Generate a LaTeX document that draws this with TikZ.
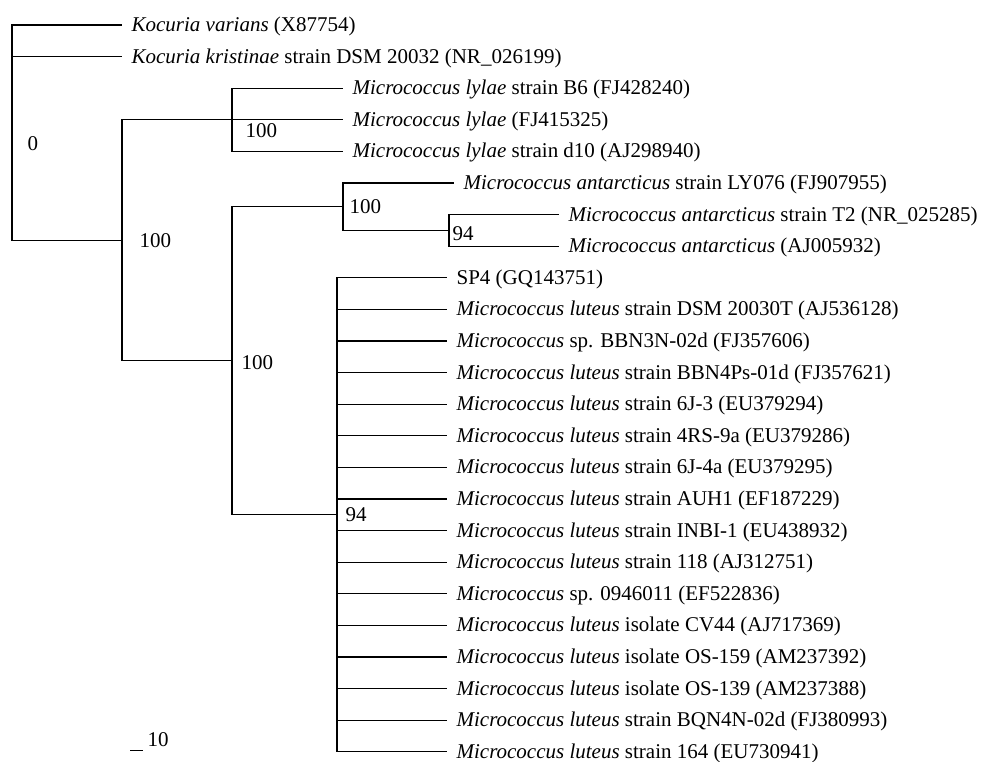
\documentclass[tikz,border=0pt]{standalone}
\usepackage{fontspec}
\setmainfont{Liberation Serif}
\usepackage{tikz}
\usetikzlibrary{calc,positioning}

\begin{document}
\begin{tikzpicture}[x=1pt,y=-1pt,line width=1.2pt,
		every node/.style={font=\fontsize{21}{25}\selectfont},
		leaf/.style={anchor=west,inner ysep=0pt,inner xsep=9pt,text height=13pt,text depth=0pt},
		boot/.style={anchor=west,inner sep=0pt}]
				\useasboundingbox (0,0) rectangle (988,762);
				% 内部节点
				\coordinate (R) at (12,132.6);
				\coordinate (M) at (122,240.3);
				\coordinate (L) at (232,119.8);
				\coordinate (N) at (232,360.75);
				\coordinate (A) at (343,206.7);
				\coordinate (T) at (449,230.4);
				\coordinate (U) at (337,514.8);
				% 叶节点
				\node[leaf] (kvar) at (122,25) {\textit{Kocuria varians} (X87754)};
				\node[leaf] (kkri) at (122,56.6) {\textit{Kocuria kristinae} strain DSM 20032 (NR\_026199)};
				\node[leaf] (lyB6) at (343,88.2) {\textit{Micrococcus lylae} strain B6 (FJ428240)};
				\node[leaf] (lyFJ) at (343,119.8) {\textit{Micrococcus lylae} (FJ415325)};
				\node[leaf] (lyd10) at (343,151.4) {\textit{Micrococcus lylae} strain d10 (AJ298940)};
				\node[leaf] (anLY) at (454,183) {\textit{Micrococcus antarcticus} strain LY076 (FJ907955)};
				\node[leaf] (anT2) at (559,214.6) {\textit{Micrococcus antarcticus} strain T2 (NR\_025285)};
				\node[leaf] (anAJ) at (559,246.2) {\textit{Micrococcus antarcticus} (AJ005932)};
				\node[leaf] (sp4) at (447,277.8) {SP4 (GQ143751)};
				\node[leaf] (luDSM) at (447,309.4) {\textit{Micrococcus luteus} strain DSM 20030T (AJ536128)};
				\node[leaf] (spBBN) at (447,341) {\textit{Micrococcus} sp. BBN3N-02d (FJ357606)};
				\node[leaf] (luBBN) at (447,372.6) {\textit{Micrococcus luteus} strain BBN4Ps-01d (FJ357621)};
				\node[leaf] (lu6J3) at (447,404.2) {\textit{Micrococcus luteus} strain 6J-3 (EU379294)};
				\node[leaf] (lu4RS) at (447,435.8) {\textit{Micrococcus luteus} strain 4RS-9a (EU379286)};
				\node[leaf] (lu6J4) at (447,467.4) {\textit{Micrococcus luteus} strain 6J-4a (EU379295)};
				\node[leaf] (luAUH) at (447,499) {\textit{Micrococcus luteus} strain AUH1 (EF187229)};
				\node[leaf] (luINBI) at (447,530.6) {\textit{Micrococcus luteus} strain INBI-1 (EU438932)};
				\node[leaf] (lu118) at (447,562.2) {\textit{Micrococcus luteus} strain 118 (AJ312751)};
				\node[leaf] (spEF) at (447,593.8) {\textit{Micrococcus} sp. 0946011 (EF522836)};
				\node[leaf] (luCV) at (447,625.4) {\textit{Micrococcus luteus} isolate CV44 (AJ717369)};
				\node[leaf] (luOS9) at (447,657) {\textit{Micrococcus luteus} isolate OS-159 (AM237392)};
				\node[leaf] (luOS3) at (447,688.6) {\textit{Micrococcus luteus} isolate OS-139 (AM237388)};
				\node[leaf] (luBQN) at (447,720.2) {\textit{Micrococcus luteus} strain BQN4N-02d (FJ380993)};
				\node[leaf] (lu164) at (447,751.8) {\textit{Micrococcus luteus} strain 164 (EU730941)};
				% 绘制分支
				\draw (R) |- (kvar.west) (R) |- (kkri.west) (R) |- (M);
				\draw (M) |- (L) (M) |- (N);
				\draw (L) |- (lyB6.west) (L) -- (lyFJ.west) (L) |- (lyd10.west);
				\draw (N) |- (A) (N) |- (U);
				\draw (A) |- (anLY.west) (A) |- (T);
				\draw (T) |- (anT2.west) (T) |- (anAJ.west);
				\draw (U) |- (sp4.west) (U) |- (luDSM.west) (U) |- (spBBN.west) (U) |- (luBBN.west)
					(U) |- (lu6J3.west) (U) |- (lu4RS.west) (U) |- (lu6J4.west) (U) |- (luAUH.west)
					(U) |- (luINBI.west) (U) |- (lu118.west) (U) |- (spEF.west) (U) |- (luCV.west)
					(U) |- (luOS9.west) (U) |- (luOS3.west) (U) |- (luBQN.west) (U) |- (lu164.west);
				% 标注自展值
				\node[boot] (bR) at ($(R)+(15,11)$) {0};
				\node[boot] (bM) at ($(M)+(17,0)$) {100};
				\node[boot] (bL) at ($(L)+(13,10.7)$) {100};
				\node[boot] (bN) at ($(N)+(9,2)$) {100};
				\node[boot] (bA) at ($(A)+(6,0)$) {100};
				\node[boot] (bT) at ($(T)+(3,3.5)$) {94};
				\node[boot] (bU) at ($(U)+(8,0)$) {94};
				% 标尺
				\coordinate (bar0) at (130,750);
				\coordinate (bar1) at (143,750);
				\draw[line width=1pt] (bar0) -- (bar1);
				\node[boot,anchor=base west] (barlab) at (147,746.7) {10};
			\end{tikzpicture}
\end{document}
